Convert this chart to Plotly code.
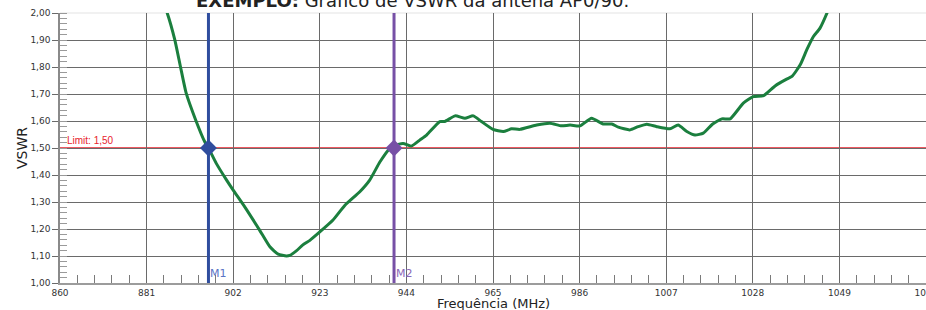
import plotly.graph_objects as go

# ---- data ----
freq_mhz = [883.5, 886.0, 887.8, 889.2, 890.6, 892.9, 895.1, 896.0, 897.9, 900.4,
            902.0, 904.8, 908.4, 910.9, 912.9, 914.9, 915.7, 917.3, 918.9, 920.6,
            923.0, 926.2, 929.1, 932.7, 935.1, 937.6, 940.0, 941.0, 943.2, 945.2,
            947.3, 948.9, 952.1, 953.3, 955.8, 958.2, 960.2, 962.2, 965.0, 967.5,
            969.5, 971.5, 975.6, 978.8, 981.6, 983.7, 986.1, 988.9, 991.7, 993.8,
            995.4, 998.2, 1000.2, 1002.3, 1004.7, 1007.9, 1009.9, 1012.0, 1014.0, 1016.0,
            1018.2, 1020.5, 1022.5, 1025.7, 1028.1, 1030.6, 1033.4, 1036.2, 1037.5, 1039.5,
            1041.1, 1042.7, 1044.3, 1046.0, 1048.0]
vswr = [2.10, 2.00, 1.903, 1.802, 1.703, 1.604, 1.523, 1.500, 1.443, 1.381,
        1.344, 1.282, 1.196, 1.134, 1.107, 1.100, 1.102, 1.119, 1.141, 1.158,
        1.189, 1.233, 1.288, 1.338, 1.381, 1.449, 1.499, 1.508, 1.517, 1.507,
        1.530, 1.548, 1.598, 1.598, 1.619, 1.610, 1.619, 1.598, 1.569, 1.561,
        1.571, 1.569, 1.585, 1.592, 1.582, 1.585, 1.582, 1.610, 1.589, 1.589,
        1.577, 1.567, 1.579, 1.588, 1.579, 1.571, 1.585, 1.561, 1.548, 1.555,
        1.588, 1.608, 1.608, 1.666, 1.690, 1.694, 1.730, 1.755, 1.765, 1.808,
        1.864, 1.913, 1.944, 2.00, 2.08]

marker_names = ["M1", "M2"]
marker_freqs = [896.0, 941.0]
marker_vswr = [1.50, 1.50]
marker_colors = ["#2f4d9e", "#7750a6"]
marker_label_colors = ["#5a74c4", "#8a68b8"]

limit_value = 1.50
x_range = [860, 1070]
x_major_step = 21
y_range = [1.00, 2.00]
y_major_step = 0.10

title_text = "<b>EXEMPLO:</b> Gráfico de VSWR da antena AP0/90."
x_title = "Frequência (MHz)"
y_title = "VSWR"

FONT = "DejaVu Sans"
GRID = "#6a6a6a"

fig = go.Figure()

# VSWR curve
fig.add_trace(go.Scatter(
    x=freq_mhz, y=vswr, mode="lines",
    line=dict(color="#1b7f3e", width=3, shape="spline", smoothing=0.5),
    showlegend=False, hoverinfo="x+y", cliponaxis=True,
))

# marker vertical lines
for name, f, c in zip(marker_names, marker_freqs, marker_colors):
    fig.add_trace(go.Scatter(
        x=[f, f], y=y_range, mode="lines",
        line=dict(color=c, width=3), showlegend=False, hoverinfo="skip",
    ))

# marker diamonds
for name, f, v, c in zip(marker_names, marker_freqs, marker_vswr, marker_colors):
    fig.add_trace(go.Scatter(
        x=[f], y=[v], mode="markers",
        marker=dict(symbol="diamond", size=13, color=c, line=dict(width=0)),
        showlegend=False, name=name,
    ))

# marker labels
for name, f, c in zip(marker_names, marker_freqs, marker_label_colors):
    fig.add_annotation(x=f, y=y_range[0], xref="x", yref="y", text=name,
                       showarrow=False, xanchor="left", yanchor="bottom",
                       xshift=0, yshift=1,
                       font=dict(family=FONT, size=11, color=c))

# limit line
fig.add_shape(type="line", xref="paper", yref="y", x0=0, x1=1,
              y0=limit_value, y1=limit_value,
              line=dict(color="#e8222c", width=1.5), layer="between")
fig.add_annotation(x=0, y=limit_value, xref="paper", yref="y",
                   text="Limit: " + f"{limit_value:.2f}".replace(".", ","),
                   showarrow=False, xanchor="left", yanchor="bottom",
                   xshift=5, yshift=0,
                   font=dict(family="Liberation Sans", size=10, color="#e8222c"))

# faint top edge
fig.add_shape(type="line", xref="paper", yref="paper", x0=0, x1=1, y0=1, y1=1,
              line=dict(color="#ececec", width=1.5), layer="between")

# title (clipped at top in the reference)
fig.add_annotation(x=0.4076, y=1, xref="paper", yref="paper", text=title_text,
                   showarrow=False, xanchor="center", yanchor="bottom", yshift=0,
                   font=dict(family=FONT, size=18, color="#222"))

# axis titles
fig.add_annotation(x=0.5, y=0, xref="paper", yref="paper", text=x_title,
                   showarrow=False, xanchor="center", yanchor="middle", yshift=-20,
                   font=dict(family=FONT, size=13, color="#222"))
fig.add_annotation(x=0, y=0.5, xref="paper", yref="paper", text=y_title,
                   showarrow=False, xanchor="center", yanchor="middle", xshift=-38,
                   textangle=-90,
                   font=dict(family=FONT, size=14, color="#222"))

fig.update_layout(
    width=926, height=310,
    margin=dict(l=60, r=0, t=13, b=27),
    paper_bgcolor="white", plot_bgcolor="white",
    separators=", ",
    font=dict(family=FONT, size=9, color="#333"),
    showlegend=False,
)
fig.update_xaxes(
    range=x_range, tick0=x_range[0], dtick=x_major_step,
    showgrid=True, gridcolor=GRID, gridwidth=1,
    ticks="inside", ticklen=8, tickcolor=GRID,
    tickfont=dict(family=FONT, size=9, color="#333"),
    ticklabeloverflow="allow",
    showline=True, linecolor="#9c9c9c", linewidth=2,
    zeroline=False, automargin=False,
    minor=dict(dtick=x_major_step / 5, tick0=x_range[0], ticks="inside",
               ticklen=8, tickcolor="#7a7a7a", showgrid=False),
)
fig.update_yaxes(
    range=y_range, tick0=y_range[0], dtick=y_major_step, tickformat=".2f",
    showgrid=True, gridcolor=GRID, gridwidth=1,
    ticks="outside", ticklen=6, tickcolor=GRID,
    tickfont=dict(family=FONT, size=9, color="#333"),
    showline=True, linecolor="#8a8a8a", linewidth=1.5,
    zeroline=False, automargin=False,
    minor=dict(dtick=y_major_step / 5, tick0=y_range[0], ticks="inside",
               ticklen=7, tickcolor="#9a9a9a", showgrid=False),
)

fig.write_html("out.html", config={"displayModeBar": False},
               post_script="document.body.style.margin='0';document.body.style.overflow='hidden';")
